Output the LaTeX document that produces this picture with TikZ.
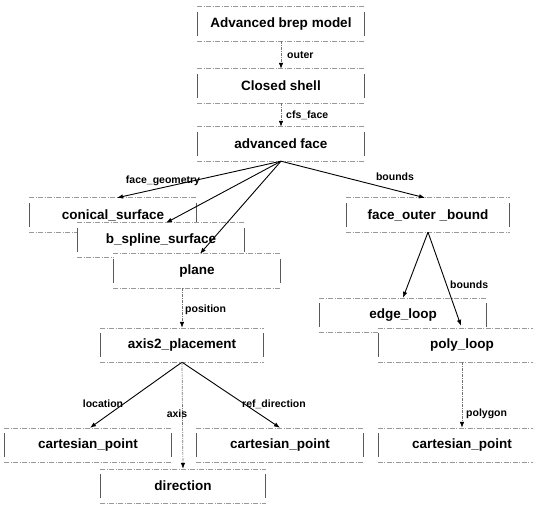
\documentclass[tikz,border=0pt]{standalone}
\usepackage{fontspec}
\setmainfont{Liberation Sans}
\usetikzlibrary{arrows.meta,calc}

\tikzset{
  box/.style={fill=white, minimum width=167pt, minimum height=34pt, inner sep=0pt,
              font=\bfseries\fontsize{13.5}{16}\selectfont},
  boxtb/.style={draw=black!40, line width=0.6pt,
                dash pattern=on 5pt off 1.5pt on 1pt off 1.5pt},
  boxlr/.style={draw=black!65, line width=0.6pt, shorten <=5pt, shorten >=5pt},
  link/.style={draw=black, line width=0.9pt, -{Latex[length=6pt,width=4.5pt]}},
  weak/.style={draw=black!55, line width=0.7pt,
               dash pattern=on 3pt off 1pt on 1pt off 1pt,
               -{Latex[length=6pt,width=4.5pt,color=black]}},
  lbl/.style={font=\bfseries\fontsize{10.5}{12}\selectfont, inner sep=0pt},
}

% frame of an entity box: dotted top and bottom, short solid sides
\newcommand{\entityframe}[1]{%
  \draw[boxtb] (#1.north west) -- (#1.north east) (#1.south west) -- (#1.south east);
  \draw[boxlr] (#1.north west) -- (#1.south west);
  \draw[boxlr] (#1.north east) -- (#1.south east);
}

\begin{document}
\begin{tikzpicture}[x=1pt, y=-1pt]
  \useasboundingbox (0,0) rectangle (533,505);
  \clip (0,0) rectangle (533,505);

  % entity boxes, later ones cover earlier ones
  \node[box] (brep) at (281,24) {Advanced brep model}; \entityframe{brep}
  \node[box] (cs)   at (281,86) {Closed shell};        \entityframe{cs}
  \node[box] (af)   at (281,144) {advanced face};      \entityframe{af}

  \node[box] (con)  at (113,215) {conical\_surface};   \entityframe{con}
  \node[box] (bsp)  at (161,240) {b\_spline\_surface}; \entityframe{bsp}
  \node[box] (pl)   at (197,271) {plane};              \entityframe{pl}

  \node[box, minimum width=163pt] (fob) at (428,215) {face\_outer \_bound}; \entityframe{fob}
  \node[box] (el)   at (403,315) {edge\_loop};         \entityframe{el}
  \node[box, minimum width=168pt] (poly) at (462,345) {poly\_loop}; \entityframe{poly}

  \node[box, minimum width=163pt] (ax) at (182,345) {axis2\_placement}; \entityframe{ax}

  \node[box] (cpa)  at (88,445)  {cartesian\_point};   \entityframe{cpa}
  \node[box] (cpb)  at (280,445) {cartesian\_point};   \entityframe{cpb}
  \node[box, minimum width=168pt] (cpc) at (462,445) {cartesian\_point}; \entityframe{cpc}
  \node[box, minimum width=165pt] (dir) at (183,486) {direction}; \entityframe{dir}

  % attribute links
  \draw[weak] (brep.south) -- (cs.north);
  \draw[weak] (cs.south) -- (af.north);
  \draw[link] (af.south) -- ($(con.north)+(4,0)$);
  \draw[link] (af.south) -- ($(bsp.north)+(5,0)$);
  \draw[link] (af.south) -- ($(pl.north)+(3,0)$);
  \draw[link] (af.south) -- ($(fob.north)+(-3,0)$);
  \draw[link] (fob.south) -- (el.north);
  \draw[link] (fob.south) -- ($(poly.north)+(-1,-2)$);
  \draw[weak] (pl.south -| ax.north) -- (ax.north);
  \draw[link] (ax.south) -- ($(cpa.north)+(2,0)$);
  \draw[link] (ax.south) -- (cpb.north);
  \draw[weak] (ax.south) -- (dir.north);
  \draw[weak] (poly.south) -- (cpc.north);

  % link labels
  \node[lbl, anchor=west] (louter) at (287,55)  {outer};
  \node[lbl, anchor=west] (lcfs)   at (286,115) {cfs\_face};
  \node[lbl] (lgeo)   at (163,181) {face\_geometry};
  \node[lbl] (lbnd)   at (395,177) {bounds};
  \node[lbl, anchor=west] (lbnd2)  at (450,285) {bounds};
  \node[lbl, anchor=west] (lpos)   at (185,310) {position};
  \node[lbl] (lloc)   at (103,404) {location};
  \node[lbl] (laxis)  at (177,414) {axis};
  \node[lbl] (lref)   at (274,404) {ref\_direction};
  \node[lbl, anchor=west] (lpoly)  at (466,414) {polygon};
\end{tikzpicture}
\end{document}
